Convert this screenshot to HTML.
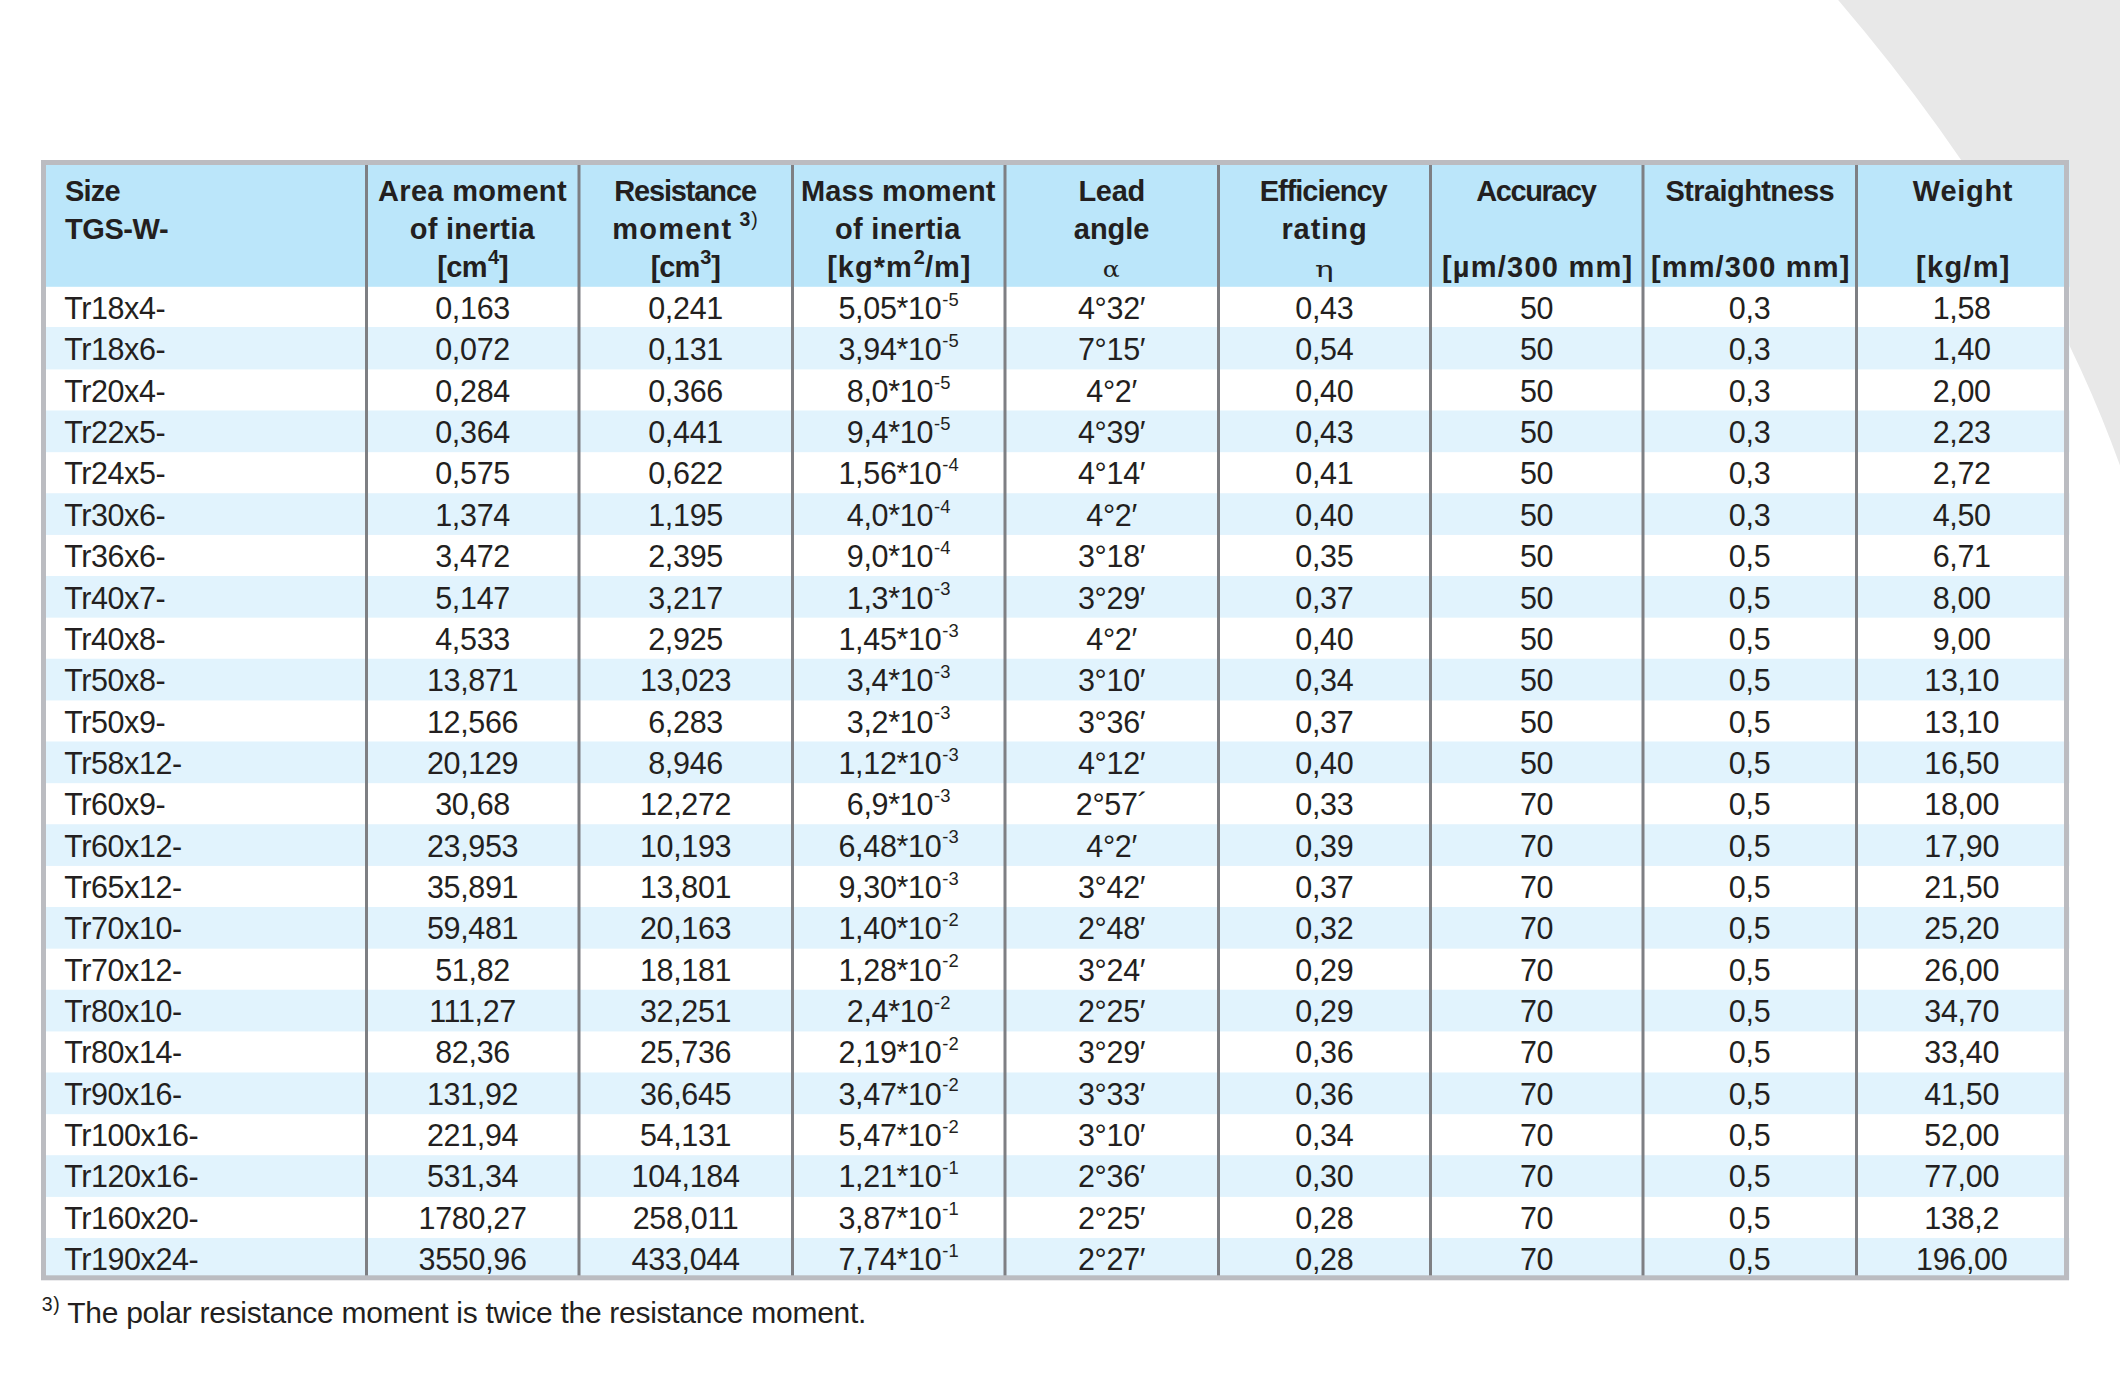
<!DOCTYPE html>
<html lang="en">
<head>
<meta charset="utf-8">
<title>TGS-W technical data</title>
<style>
html,body{margin:0;padding:0;background:#fff;}
body{width:2120px;height:1391px;position:relative;overflow:hidden;
  font-family:"Liberation Sans",sans-serif;color:#231f20;}
#deco,#bands,#lines{position:absolute;left:0;top:0;}
.t{position:absolute;white-space:nowrap;line-height:40px;height:40px;}
.c{width:300px;margin-left:-150px;text-align:center;}
.b{font-size:30.5px;letter-spacing:-0.32px;}
.b1{font-size:30.5px;letter-spacing:-0.45px;}
.h{font-size:29px;font-weight:bold;}
.f{font-size:30px;letter-spacing:-0.28px;}
sup{line-height:0;vertical-align:baseline;position:relative;letter-spacing:0;}
sup.bs{font-size:18.4px;top:-13.2px;margin-left:1px;}
sup.hs{font-size:20px;top:-12.2px;margin-left:1px;}
sup.fn{font-size:19.5px;top:-12.5px;font-weight:normal;letter-spacing:0.7px;}
.h sup.fn{margin-left:-2px;}
sup.fn b{font-weight:bold;}
.f sup.fn{top:-12.7px;margin-right:-0.8px;}
.sym{font-family:"DejaVu Serif",serif;font-weight:normal;font-size:21.5px;display:inline-block;transform:scaleX(1.17);}
.sym.eta{transform:scaleX(1.45);}
</style>
</head>
<body>
<svg id="deco" width="2120" height="1391" viewBox="0 0 2120 1391">
<path d="M1833.88 -5 Q2042.27 237.5 2125.02 480 L2125 -5 Z" fill="#e8e8e8"/>
</svg>

<svg id="bands" width="2120" height="1391" viewBox="0 0 2120 1391">
<rect x="41" y="160" width="2028.4" height="1120.3" fill="#fff"/>
<rect x="41" y="160" width="2028.4" height="126.8" fill="#bbe6fa"/>
<rect x="41" y="327.00" width="2028.4" height="42.43" fill="#e1f3fd"/>
<rect x="41" y="410.48" width="2028.4" height="41.69" fill="#e1f3fd"/>
<rect x="41" y="493.23" width="2028.4" height="41.69" fill="#e1f3fd"/>
<rect x="41" y="575.98" width="2028.4" height="41.69" fill="#e1f3fd"/>
<rect x="41" y="658.73" width="2028.4" height="41.69" fill="#e1f3fd"/>
<rect x="41" y="741.48" width="2028.4" height="41.69" fill="#e1f3fd"/>
<rect x="41" y="824.23" width="2028.4" height="41.69" fill="#e1f3fd"/>
<rect x="41" y="906.98" width="2028.4" height="41.69" fill="#e1f3fd"/>
<rect x="41" y="989.73" width="2028.4" height="41.69" fill="#e1f3fd"/>
<rect x="41" y="1072.48" width="2028.4" height="41.69" fill="#e1f3fd"/>
<rect x="41" y="1155.22" width="2028.4" height="41.69" fill="#e1f3fd"/>
<rect x="41" y="1237.97" width="2028.4" height="41.69" fill="#e1f3fd"/>
</svg>
<div class="t h" style="left:64.91px;top:170.95px;letter-spacing:-0.76px">Size</div>
<div class="t h" style="left:65.02px;top:208.95px;letter-spacing:-0.44px">TGS-W-</div>
<div class="t h c" style="left:472.47px;top:170.95px;letter-spacing:0.32px">Area moment</div>
<div class="t h c" style="left:472.30px;top:208.95px;letter-spacing:0.28px">of inertia</div>
<div class="t h c" style="left:472.65px;top:246.55px;letter-spacing:-0.66px">[cm<sup class='hs'>4</sup>]</div>
<div class="t h c" style="left:685.05px;top:170.95px;letter-spacing:-1.14px">Resistance</div>
<div class="t h c" style="left:685.31px;top:208.95px;letter-spacing:1.22px">moment <sup class='fn'><b>3</b>)</sup></div>
<div class="t h c" style="left:685.34px;top:246.55px;letter-spacing:-1.00px">[cm<sup class='hs'>3</sup>]</div>
<div class="t h c" style="left:898.22px;top:170.95px;letter-spacing:0.10px">Mass moment</div>
<div class="t h c" style="left:897.80px;top:208.95px;letter-spacing:0.33px">of inertia</div>
<div class="t h c" style="left:899.37px;top:246.55px;letter-spacing:1.02px">[kg*m<sup class='hs'>2</sup>/m]</div>
<div class="t h c" style="left:1111.66px;top:170.95px;letter-spacing:-0.32px">Lead</div>
<div class="t h c" style="left:1111.64px;top:208.95px;letter-spacing:-0.04px">angle</div>
<div class="t h c" style="left:1111.24px;top:246.55px;letter-spacing:0.00px"><span class='sym'>α</span></div>
<div class="t h c" style="left:1323.17px;top:170.95px;letter-spacing:-1.00px">Efficiency</div>
<div class="t h c" style="left:1324.56px;top:208.95px;letter-spacing:0.96px">rating</div>
<div class="t h c" style="left:1324.82px;top:246.55px;letter-spacing:0.00px"><span class='sym eta'>η</span></div>
<div class="t h c" style="left:1535.80px;top:170.95px;letter-spacing:-1.43px">Accuracy</div>
<div class="t h c" style="left:1537.67px;top:246.55px;letter-spacing:1.23px">[µm/300 mm]</div>
<div class="t h c" style="left:1749.81px;top:170.95px;letter-spacing:-0.58px">Straightness</div>
<div class="t h c" style="left:1750.73px;top:246.55px;letter-spacing:1.14px">[mm/300 mm]</div>
<div class="t h c" style="left:1963.00px;top:170.95px;letter-spacing:0.70px">Weight</div>
<div class="t h c" style="left:1963.38px;top:246.55px;letter-spacing:1.28px">[kg/m]</div>
<div class="t b1" style="left:64.3px;top:288.13px">Tr18x4-</div>
<div class="t b c" style="left:472.59px;top:288.13px">0,163</div>
<div class="t b c" style="left:685.59px;top:288.13px">0,241</div>
<div class="t b c" style="left:898.59px;top:288.13px">5,05*10<sup class='bs'>-5</sup></div>
<div class="t b c" style="left:1111.59px;top:288.13px">4°32′</div>
<div class="t b c" style="left:1324.34px;top:288.13px">0,43</div>
<div class="t b c" style="left:1536.59px;top:288.13px">50</div>
<div class="t b c" style="left:1749.59px;top:288.13px">0,3</div>
<div class="t b c" style="left:1961.69px;top:288.13px">1,58</div>
<div class="t b1" style="left:64.3px;top:329.47px">Tr18x6-</div>
<div class="t b c" style="left:472.59px;top:329.47px">0,072</div>
<div class="t b c" style="left:685.59px;top:329.47px">0,131</div>
<div class="t b c" style="left:898.59px;top:329.47px">3,94*10<sup class='bs'>-5</sup></div>
<div class="t b c" style="left:1111.59px;top:329.47px">7°15′</div>
<div class="t b c" style="left:1324.34px;top:329.47px">0,54</div>
<div class="t b c" style="left:1536.59px;top:329.47px">50</div>
<div class="t b c" style="left:1749.59px;top:329.47px">0,3</div>
<div class="t b c" style="left:1961.69px;top:329.47px">1,40</div>
<div class="t b1" style="left:64.3px;top:370.81px">Tr20x4-</div>
<div class="t b c" style="left:472.59px;top:370.81px">0,284</div>
<div class="t b c" style="left:685.59px;top:370.81px">0,366</div>
<div class="t b c" style="left:898.59px;top:370.81px">8,0*10<sup class='bs'>-5</sup></div>
<div class="t b c" style="left:1111.59px;top:370.81px">4°2′</div>
<div class="t b c" style="left:1324.34px;top:370.81px">0,40</div>
<div class="t b c" style="left:1536.59px;top:370.81px">50</div>
<div class="t b c" style="left:1749.59px;top:370.81px">0,3</div>
<div class="t b c" style="left:1961.69px;top:370.81px">2,00</div>
<div class="t b1" style="left:64.3px;top:412.15px">Tr22x5-</div>
<div class="t b c" style="left:472.59px;top:412.15px">0,364</div>
<div class="t b c" style="left:685.59px;top:412.15px">0,441</div>
<div class="t b c" style="left:898.59px;top:412.15px">9,4*10<sup class='bs'>-5</sup></div>
<div class="t b c" style="left:1111.59px;top:412.15px">4°39′</div>
<div class="t b c" style="left:1324.34px;top:412.15px">0,43</div>
<div class="t b c" style="left:1536.59px;top:412.15px">50</div>
<div class="t b c" style="left:1749.59px;top:412.15px">0,3</div>
<div class="t b c" style="left:1961.69px;top:412.15px">2,23</div>
<div class="t b1" style="left:64.3px;top:453.49px">Tr24x5-</div>
<div class="t b c" style="left:472.59px;top:453.49px">0,575</div>
<div class="t b c" style="left:685.59px;top:453.49px">0,622</div>
<div class="t b c" style="left:898.59px;top:453.49px">1,56*10<sup class='bs'>-4</sup></div>
<div class="t b c" style="left:1111.59px;top:453.49px">4°14′</div>
<div class="t b c" style="left:1324.34px;top:453.49px">0,41</div>
<div class="t b c" style="left:1536.59px;top:453.49px">50</div>
<div class="t b c" style="left:1749.59px;top:453.49px">0,3</div>
<div class="t b c" style="left:1961.69px;top:453.49px">2,72</div>
<div class="t b1" style="left:64.3px;top:494.83px">Tr30x6-</div>
<div class="t b c" style="left:472.59px;top:494.83px">1,374</div>
<div class="t b c" style="left:685.59px;top:494.83px">1,195</div>
<div class="t b c" style="left:898.59px;top:494.83px">4,0*10<sup class='bs'>-4</sup></div>
<div class="t b c" style="left:1111.59px;top:494.83px">4°2′</div>
<div class="t b c" style="left:1324.34px;top:494.83px">0,40</div>
<div class="t b c" style="left:1536.59px;top:494.83px">50</div>
<div class="t b c" style="left:1749.59px;top:494.83px">0,3</div>
<div class="t b c" style="left:1961.69px;top:494.83px">4,50</div>
<div class="t b1" style="left:64.3px;top:536.17px">Tr36x6-</div>
<div class="t b c" style="left:472.59px;top:536.17px">3,472</div>
<div class="t b c" style="left:685.59px;top:536.17px">2,395</div>
<div class="t b c" style="left:898.59px;top:536.17px">9,0*10<sup class='bs'>-4</sup></div>
<div class="t b c" style="left:1111.59px;top:536.17px">3°18′</div>
<div class="t b c" style="left:1324.34px;top:536.17px">0,35</div>
<div class="t b c" style="left:1536.59px;top:536.17px">50</div>
<div class="t b c" style="left:1749.59px;top:536.17px">0,5</div>
<div class="t b c" style="left:1961.69px;top:536.17px">6,71</div>
<div class="t b1" style="left:64.3px;top:577.51px">Tr40x7-</div>
<div class="t b c" style="left:472.59px;top:577.51px">5,147</div>
<div class="t b c" style="left:685.59px;top:577.51px">3,217</div>
<div class="t b c" style="left:898.59px;top:577.51px">1,3*10<sup class='bs'>-3</sup></div>
<div class="t b c" style="left:1111.59px;top:577.51px">3°29′</div>
<div class="t b c" style="left:1324.34px;top:577.51px">0,37</div>
<div class="t b c" style="left:1536.59px;top:577.51px">50</div>
<div class="t b c" style="left:1749.59px;top:577.51px">0,5</div>
<div class="t b c" style="left:1961.69px;top:577.51px">8,00</div>
<div class="t b1" style="left:64.3px;top:618.85px">Tr40x8-</div>
<div class="t b c" style="left:472.59px;top:618.85px">4,533</div>
<div class="t b c" style="left:685.59px;top:618.85px">2,925</div>
<div class="t b c" style="left:898.59px;top:618.85px">1,45*10<sup class='bs'>-3</sup></div>
<div class="t b c" style="left:1111.59px;top:618.85px">4°2′</div>
<div class="t b c" style="left:1324.34px;top:618.85px">0,40</div>
<div class="t b c" style="left:1536.59px;top:618.85px">50</div>
<div class="t b c" style="left:1749.59px;top:618.85px">0,5</div>
<div class="t b c" style="left:1961.69px;top:618.85px">9,00</div>
<div class="t b1" style="left:64.3px;top:660.19px">Tr50x8-</div>
<div class="t b c" style="left:472.59px;top:660.19px">13,871</div>
<div class="t b c" style="left:685.59px;top:660.19px">13,023</div>
<div class="t b c" style="left:898.59px;top:660.19px">3,4*10<sup class='bs'>-3</sup></div>
<div class="t b c" style="left:1111.59px;top:660.19px">3°10′</div>
<div class="t b c" style="left:1324.34px;top:660.19px">0,34</div>
<div class="t b c" style="left:1536.59px;top:660.19px">50</div>
<div class="t b c" style="left:1749.59px;top:660.19px">0,5</div>
<div class="t b c" style="left:1961.69px;top:660.19px">13,10</div>
<div class="t b1" style="left:64.3px;top:701.53px">Tr50x9-</div>
<div class="t b c" style="left:472.59px;top:701.53px">12,566</div>
<div class="t b c" style="left:685.59px;top:701.53px">6,283</div>
<div class="t b c" style="left:898.59px;top:701.53px">3,2*10<sup class='bs'>-3</sup></div>
<div class="t b c" style="left:1111.59px;top:701.53px">3°36′</div>
<div class="t b c" style="left:1324.34px;top:701.53px">0,37</div>
<div class="t b c" style="left:1536.59px;top:701.53px">50</div>
<div class="t b c" style="left:1749.59px;top:701.53px">0,5</div>
<div class="t b c" style="left:1961.69px;top:701.53px">13,10</div>
<div class="t b1" style="left:64.3px;top:742.87px">Tr58x12-</div>
<div class="t b c" style="left:472.59px;top:742.87px">20,129</div>
<div class="t b c" style="left:685.59px;top:742.87px">8,946</div>
<div class="t b c" style="left:898.59px;top:742.87px">1,12*10<sup class='bs'>-3</sup></div>
<div class="t b c" style="left:1111.59px;top:742.87px">4°12′</div>
<div class="t b c" style="left:1324.34px;top:742.87px">0,40</div>
<div class="t b c" style="left:1536.59px;top:742.87px">50</div>
<div class="t b c" style="left:1749.59px;top:742.87px">0,5</div>
<div class="t b c" style="left:1961.69px;top:742.87px">16,50</div>
<div class="t b1" style="left:64.3px;top:784.21px">Tr60x9-</div>
<div class="t b c" style="left:472.59px;top:784.21px">30,68</div>
<div class="t b c" style="left:685.59px;top:784.21px">12,272</div>
<div class="t b c" style="left:898.59px;top:784.21px">6,9*10<sup class='bs'>-3</sup></div>
<div class="t b c" style="left:1111.59px;top:784.21px">2°57´</div>
<div class="t b c" style="left:1324.34px;top:784.21px">0,33</div>
<div class="t b c" style="left:1536.59px;top:784.21px">70</div>
<div class="t b c" style="left:1749.59px;top:784.21px">0,5</div>
<div class="t b c" style="left:1961.69px;top:784.21px">18,00</div>
<div class="t b1" style="left:64.3px;top:825.55px">Tr60x12-</div>
<div class="t b c" style="left:472.59px;top:825.55px">23,953</div>
<div class="t b c" style="left:685.59px;top:825.55px">10,193</div>
<div class="t b c" style="left:898.59px;top:825.55px">6,48*10<sup class='bs'>-3</sup></div>
<div class="t b c" style="left:1111.59px;top:825.55px">4°2′</div>
<div class="t b c" style="left:1324.34px;top:825.55px">0,39</div>
<div class="t b c" style="left:1536.59px;top:825.55px">70</div>
<div class="t b c" style="left:1749.59px;top:825.55px">0,5</div>
<div class="t b c" style="left:1961.69px;top:825.55px">17,90</div>
<div class="t b1" style="left:64.3px;top:866.89px">Tr65x12-</div>
<div class="t b c" style="left:472.59px;top:866.89px">35,891</div>
<div class="t b c" style="left:685.59px;top:866.89px">13,801</div>
<div class="t b c" style="left:898.59px;top:866.89px">9,30*10<sup class='bs'>-3</sup></div>
<div class="t b c" style="left:1111.59px;top:866.89px">3°42′</div>
<div class="t b c" style="left:1324.34px;top:866.89px">0,37</div>
<div class="t b c" style="left:1536.59px;top:866.89px">70</div>
<div class="t b c" style="left:1749.59px;top:866.89px">0,5</div>
<div class="t b c" style="left:1961.69px;top:866.89px">21,50</div>
<div class="t b1" style="left:64.3px;top:908.23px">Tr70x10-</div>
<div class="t b c" style="left:472.59px;top:908.23px">59,481</div>
<div class="t b c" style="left:685.59px;top:908.23px">20,163</div>
<div class="t b c" style="left:898.59px;top:908.23px">1,40*10<sup class='bs'>-2</sup></div>
<div class="t b c" style="left:1111.59px;top:908.23px">2°48′</div>
<div class="t b c" style="left:1324.34px;top:908.23px">0,32</div>
<div class="t b c" style="left:1536.59px;top:908.23px">70</div>
<div class="t b c" style="left:1749.59px;top:908.23px">0,5</div>
<div class="t b c" style="left:1961.69px;top:908.23px">25,20</div>
<div class="t b1" style="left:64.3px;top:949.57px">Tr70x12-</div>
<div class="t b c" style="left:472.59px;top:949.57px">51,82</div>
<div class="t b c" style="left:685.59px;top:949.57px">18,181</div>
<div class="t b c" style="left:898.59px;top:949.57px">1,28*10<sup class='bs'>-2</sup></div>
<div class="t b c" style="left:1111.59px;top:949.57px">3°24′</div>
<div class="t b c" style="left:1324.34px;top:949.57px">0,29</div>
<div class="t b c" style="left:1536.59px;top:949.57px">70</div>
<div class="t b c" style="left:1749.59px;top:949.57px">0,5</div>
<div class="t b c" style="left:1961.69px;top:949.57px">26,00</div>
<div class="t b1" style="left:64.3px;top:990.91px">Tr80x10-</div>
<div class="t b c" style="left:472.59px;top:990.91px">111,27</div>
<div class="t b c" style="left:685.59px;top:990.91px">32,251</div>
<div class="t b c" style="left:898.59px;top:990.91px">2,4*10<sup class='bs'>-2</sup></div>
<div class="t b c" style="left:1111.59px;top:990.91px">2°25′</div>
<div class="t b c" style="left:1324.34px;top:990.91px">0,29</div>
<div class="t b c" style="left:1536.59px;top:990.91px">70</div>
<div class="t b c" style="left:1749.59px;top:990.91px">0,5</div>
<div class="t b c" style="left:1961.69px;top:990.91px">34,70</div>
<div class="t b1" style="left:64.3px;top:1032.25px">Tr80x14-</div>
<div class="t b c" style="left:472.59px;top:1032.25px">82,36</div>
<div class="t b c" style="left:685.59px;top:1032.25px">25,736</div>
<div class="t b c" style="left:898.59px;top:1032.25px">2,19*10<sup class='bs'>-2</sup></div>
<div class="t b c" style="left:1111.59px;top:1032.25px">3°29′</div>
<div class="t b c" style="left:1324.34px;top:1032.25px">0,36</div>
<div class="t b c" style="left:1536.59px;top:1032.25px">70</div>
<div class="t b c" style="left:1749.59px;top:1032.25px">0,5</div>
<div class="t b c" style="left:1961.69px;top:1032.25px">33,40</div>
<div class="t b1" style="left:64.3px;top:1073.59px">Tr90x16-</div>
<div class="t b c" style="left:472.59px;top:1073.59px">131,92</div>
<div class="t b c" style="left:685.59px;top:1073.59px">36,645</div>
<div class="t b c" style="left:898.59px;top:1073.59px">3,47*10<sup class='bs'>-2</sup></div>
<div class="t b c" style="left:1111.59px;top:1073.59px">3°33′</div>
<div class="t b c" style="left:1324.34px;top:1073.59px">0,36</div>
<div class="t b c" style="left:1536.59px;top:1073.59px">70</div>
<div class="t b c" style="left:1749.59px;top:1073.59px">0,5</div>
<div class="t b c" style="left:1961.69px;top:1073.59px">41,50</div>
<div class="t b1" style="left:64.3px;top:1114.93px">Tr100x16-</div>
<div class="t b c" style="left:472.59px;top:1114.93px">221,94</div>
<div class="t b c" style="left:685.59px;top:1114.93px">54,131</div>
<div class="t b c" style="left:898.59px;top:1114.93px">5,47*10<sup class='bs'>-2</sup></div>
<div class="t b c" style="left:1111.59px;top:1114.93px">3°10′</div>
<div class="t b c" style="left:1324.34px;top:1114.93px">0,34</div>
<div class="t b c" style="left:1536.59px;top:1114.93px">70</div>
<div class="t b c" style="left:1749.59px;top:1114.93px">0,5</div>
<div class="t b c" style="left:1961.69px;top:1114.93px">52,00</div>
<div class="t b1" style="left:64.3px;top:1156.27px">Tr120x16-</div>
<div class="t b c" style="left:472.59px;top:1156.27px">531,34</div>
<div class="t b c" style="left:685.59px;top:1156.27px">104,184</div>
<div class="t b c" style="left:898.59px;top:1156.27px">1,21*10<sup class='bs'>-1</sup></div>
<div class="t b c" style="left:1111.59px;top:1156.27px">2°36′</div>
<div class="t b c" style="left:1324.34px;top:1156.27px">0,30</div>
<div class="t b c" style="left:1536.59px;top:1156.27px">70</div>
<div class="t b c" style="left:1749.59px;top:1156.27px">0,5</div>
<div class="t b c" style="left:1961.69px;top:1156.27px">77,00</div>
<div class="t b1" style="left:64.3px;top:1197.61px">Tr160x20-</div>
<div class="t b c" style="left:472.59px;top:1197.61px">1780,27</div>
<div class="t b c" style="left:685.59px;top:1197.61px">258,011</div>
<div class="t b c" style="left:898.59px;top:1197.61px">3,87*10<sup class='bs'>-1</sup></div>
<div class="t b c" style="left:1111.59px;top:1197.61px">2°25′</div>
<div class="t b c" style="left:1324.34px;top:1197.61px">0,28</div>
<div class="t b c" style="left:1536.59px;top:1197.61px">70</div>
<div class="t b c" style="left:1749.59px;top:1197.61px">0,5</div>
<div class="t b c" style="left:1961.69px;top:1197.61px">138,2</div>
<div class="t b1" style="left:64.3px;top:1238.95px">Tr190x24-</div>
<div class="t b c" style="left:472.59px;top:1238.95px">3550,96</div>
<div class="t b c" style="left:685.59px;top:1238.95px">433,044</div>
<div class="t b c" style="left:898.59px;top:1238.95px">7,74*10<sup class='bs'>-1</sup></div>
<div class="t b c" style="left:1111.59px;top:1238.95px">2°27′</div>
<div class="t b c" style="left:1324.34px;top:1238.95px">0,28</div>
<div class="t b c" style="left:1536.59px;top:1238.95px">70</div>
<div class="t b c" style="left:1749.59px;top:1238.95px">0,5</div>
<div class="t b c" style="left:1961.69px;top:1238.95px">196,00</div>
<div class="t f" style="left:41.8px;top:1293.40px"><sup class="fn">3)</sup> The polar resistance moment is twice the resistance moment.</div>
<svg id="lines" width="2120" height="1391" viewBox="0 0 2120 1391">
<rect x="365" y="163" width="3" height="1114" fill="#7e7f83"/>
<rect x="577.5" y="163" width="3" height="1114" fill="#7e7f83"/>
<rect x="791" y="163" width="3" height="1114" fill="#7e7f83"/>
<rect x="1003.5" y="163" width="3" height="1114" fill="#7e7f83"/>
<rect x="1217" y="163" width="3" height="1114" fill="#7e7f83"/>
<rect x="1429" y="163" width="3" height="1114" fill="#7e7f83"/>
<rect x="1641.5" y="163" width="3" height="1114" fill="#7e7f83"/>
<rect x="1855" y="163" width="3" height="1114" fill="#7e7f83"/>
<rect x="43.5" y="162.5" width="2023" height="1115.3" fill="none" stroke="#bbbcc1" stroke-width="5"/>
</svg>
</body>
</html>
